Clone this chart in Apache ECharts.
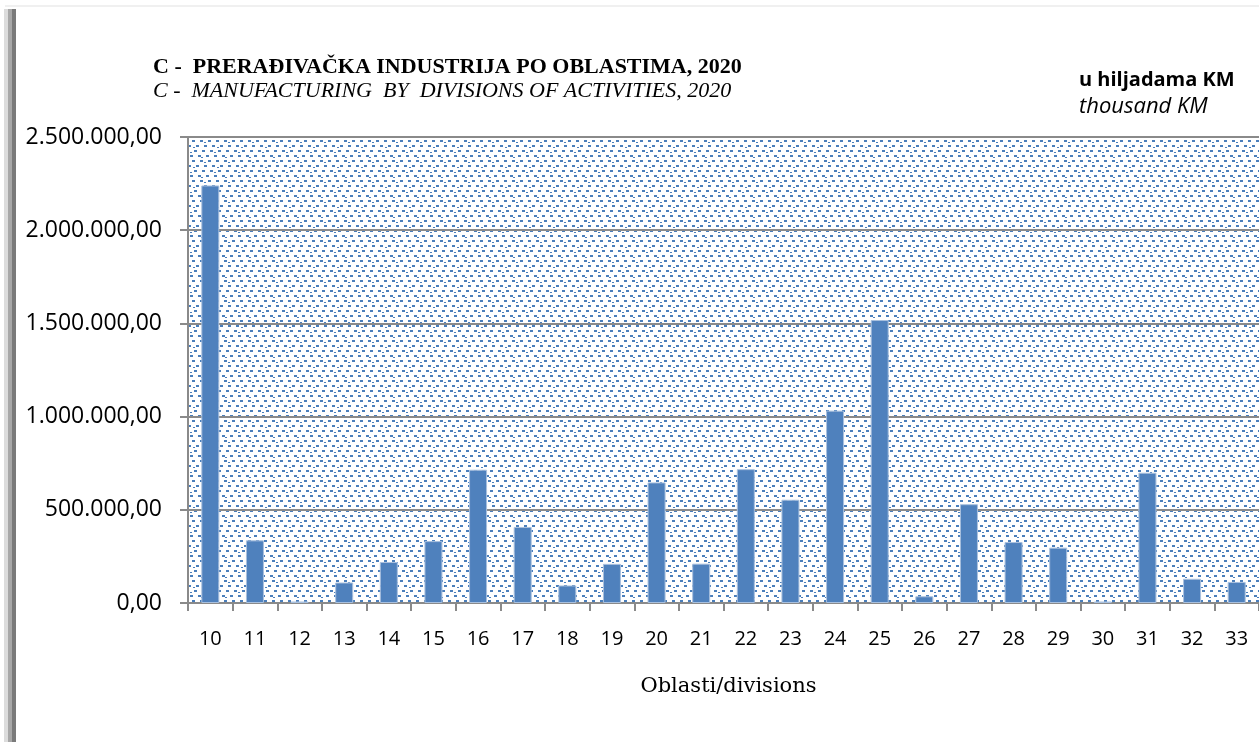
<!DOCTYPE html>
<html>
<head>
<meta charset="utf-8">
<script src="https://cdn.jsdelivr.net/npm/echarts@6/dist/echarts.min.js"></script>
<style>
html,body{margin:0;padding:0;background:#fff;}
#chart{width:1259px;height:742px;}
</style>
</head>
<body>
<div id="chart"></div>
<script>
// ---- data ----
const categories = ['10','11','12','13','14','15','16','17','18','19','20','21','22','23','24','25','26','27','28','29','30','31','32','33'];
const values = [2240000, 336000, 8000, 110000, 220000, 332000, 715000, 408000, 94000, 210000, 647000, 211000, 718000, 554000, 1032000, 1518000, 36000, 530000, 327000, 297000, 8000, 699000, 130000, 113000];
const yTicks = [0, 500000, 1000000, 1500000, 2000000, 2500000];
const titleMain = 'C -  PRERAĐIVAČKA INDUSTRIJA PO OBLASTIMA, 2020';
const titleSub = 'C -  MANUFACTURING  BY  DIVISIONS OF ACTIVITIES, 2020';
const unitMain = 'u hiljadama KM';
const unitSub = 'thousand KM';
const xName = 'Oblasti/divisions';

function fmt(v){
  const s = Math.round(v).toString().replace(/\B(?=(\d{3})+(?!\d))/g, '.');
  return s + ',00';
}

// dotted (confetti-like) pattern tile for the plot area
const tile = document.createElement('canvas');
tile.width = 24; tile.height = 20;
const tc = tile.getContext('2d');
tc.fillStyle = '#ffffff'; tc.fillRect(0,0,24,20);
tc.fillStyle = '#4a7ebb';
[[0,0,3,2],[8,0,3,2],[16,0,3,2],
 [4,5,3,2],[12,5,3,2],[20,5,3,2],
 [2,10,3,2],[10,10,3,2],[18,10,3,2],
 [6,15,3,2],[14,15,3,2],[22,15,2,2],[0,15,1,2],
 [12,2,2,1],[1,7,2,1],[22,12,2,1],[9,17,2,1]].forEach(p=>{
  tc.fillRect(p[0],p[1],p[2],p[3]);
});

const chart = echarts.init(document.getElementById('chart'), null, {renderer:'canvas'});
const gray = '#8a8a8a';
chart.setOption({
  animation:false,
  backgroundColor:'#ffffff',
  title:[
    {text:titleMain, left:153, top:56, padding:0, textStyle:{fontFamily:'Liberation Serif', fontWeight:'bold', fontSize:22, color:'#000'}},
    {text:titleSub, left:153, top:80, padding:0, textStyle:{fontFamily:'Liberation Serif', fontStyle:'italic', fontWeight:'normal', fontSize:22, color:'#000'}},
    {text:unitMain, left:1079, top:70, padding:0, textStyle:{fontFamily:'Open Sans', fontWeight:'bold', fontSize:20, color:'#000'}},
    {text:unitSub, left:1079, top:96, padding:0, textStyle:{fontFamily:'Open Sans', fontStyle:'italic', fontWeight:'normal', fontSize:22, color:'#000'}}
  ],
  graphic:[
    {type:'rect', shape:{x:5, y:5, width:1254, height:2}, style:{fill:'#f0f0f0'}},
    {type:'rect', shape:{x:4, y:9, width:4, height:733}, style:{fill:'#dcdcdc'}},
    {type:'rect', shape:{x:8, y:9, width:4, height:733}, style:{fill:'#a8a8a8'}},
    {type:'rect', shape:{x:12, y:9, width:4, height:733}, style:{fill:'#7a7a7a'}}
  ],
  grid:{left:188, top:137, width:1080, height:466, show:true, borderWidth:0,
        backgroundColor:{image:tile, repeat:'repeat'}},
  xAxis:{
    type:'category', data:categories, boundaryGap:true,
    axisLine:{show:true, lineStyle:{color:gray, width:2}},
    axisTick:{show:true, length:8, alignWithLabel:false, lineStyle:{color:gray, width:2}},
    axisLabel:{margin:26, fontFamily:'Open Sans', fontSize:20, color:'#000', interval:0},
    name:xName, nameLocation:'middle', nameGap:73,
    nameTextStyle:{fontFamily:'DejaVu Serif', fontSize:21, color:'#000', padding:[0,0,0,10]}
  },
  yAxis:{
    type:'value', min:yTicks[0], max:yTicks[yTicks.length-1], interval:yTicks[1]-yTicks[0],
    axisLine:{show:true, lineStyle:{color:gray, width:2}},
    axisTick:{show:true, length:8, lineStyle:{color:gray, width:2}},
    splitLine:{show:true, lineStyle:{color:gray, width:2}},
    axisLabel:{margin:26, fontFamily:'Open Sans', fontSize:23, color:'#000', formatter:fmt}
  },
  series:[{
    type:'bar', data:values, barWidth:18,
    itemStyle:{color:'#4f81bd', borderColor:'#a9c0de', borderWidth:1}
  }]
});
</script>
</body>
</html>
